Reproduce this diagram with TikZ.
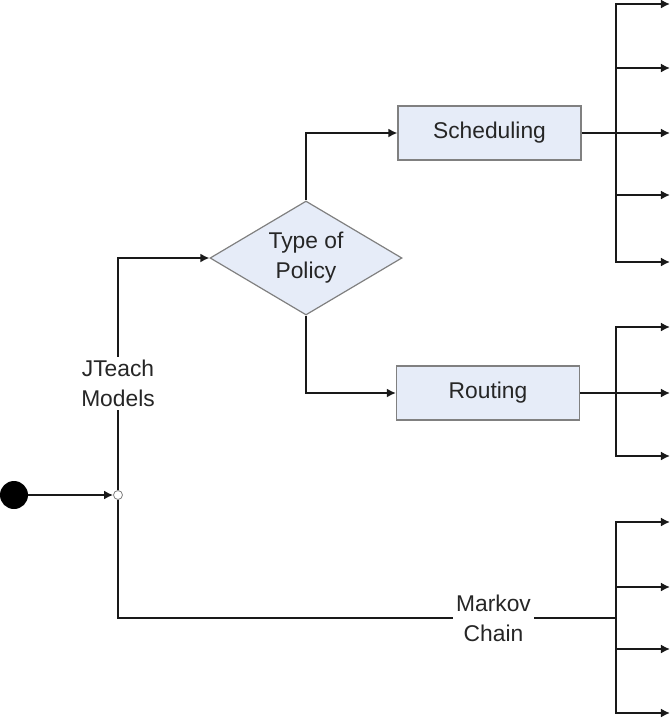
\documentclass[tikz,border=0pt]{standalone}
\usepackage{fontspec}
\setmainfont{Liberation Sans}
\usepackage{xcolor}
\usepackage{tikz}
\usetikzlibrary{arrows.meta, shapes.geometric}

\definecolor{boxfill}{HTML}{E6ECF8}
\definecolor{boxline}{HTML}{808080}

\begin{document}
\begin{tikzpicture}[
  x=0.5pt, y=-0.5pt,
  txt/.style={font=\fontsize{11.4}{15}\selectfont, text=black!85},
  box/.style={rectangle, draw=boxline, fill=boxfill, line width=0.6pt,
              minimum width=91.5pt, minimum height=27pt, txt},
  decision/.style={diamond, draw=boxline, fill=boxfill, line width=0.6pt,
                   minimum width=96pt, minimum height=57pt, inner sep=0pt,
                   aspect=1.68, txt},
  line/.style={line width=1.1pt, black!90},
  arrow/.style={line, -{Latex[length=4.5pt, width=4.5pt]}},
  lbl/.style={fill=white, inner sep=1.5pt, txt},
  every node/.style={align=center}
]
\useasboundingbox (0,0) rectangle (671,720);

\node[circle, fill=black, minimum size=14pt, inner sep=0pt] (start) at (14,495) {};
\node[circle, draw=gray, fill=white, line width=0.4pt, minimum size=4.5pt,
      inner sep=0pt] (junc) at (118,495) {};
\node[decision] (policy) at (306,258) {Type of\\Policy};
\node[box] (sched) at (489.5,133) {Scheduling};
\node[box] (route) at (488,393) {Routing};

\draw[arrow] (start) -- (junc.west);
\draw[arrow] (junc.north) |- (policy.west) node[lbl, pos=0.23] {JTeach\\Models};
\draw[arrow] (policy.north) |- (sched.west);
\draw[arrow] (policy.south) |- (route.west);

% outputs of scheduling
\foreach \y [count=\i] in {4,68,133,195,262} {
  \coordinate (s\i) at (616,\y);
  \coordinate (st\i) at (670,\y);
  \draw[arrow] (s\i) -- (st\i);
}
\draw[line, line cap=rect] (s1) -- (s5);
\draw[line] (sched.east) -- (sched.east -| s1);

% outputs of routing
\foreach \y [count=\i] in {327,393,456} {
  \coordinate (r\i) at (616,\y);
  \coordinate (rt\i) at (670,\y);
  \draw[arrow] (r\i) -- (rt\i);
}
\draw[line, line cap=rect] (r1) -- (r3);
\draw[line] (route.east) -- (route.east -| r1);

% outputs of markov chain
\foreach \y [count=\i] in {522,587,649,713} {
  \coordinate (m\i) at (616,\y);
  \coordinate (mt\i) at (670,\y);
  \draw[arrow] (m\i) -- (mt\i);
}
\draw[line, line cap=rect] (m1) -- (m4);
\coordinate (mbus) at (616,618);
\draw[line] (junc.south) |- (mbus) node[lbl, pos=0.877] {Markov\\Chain};
\end{tikzpicture}
\end{document}
